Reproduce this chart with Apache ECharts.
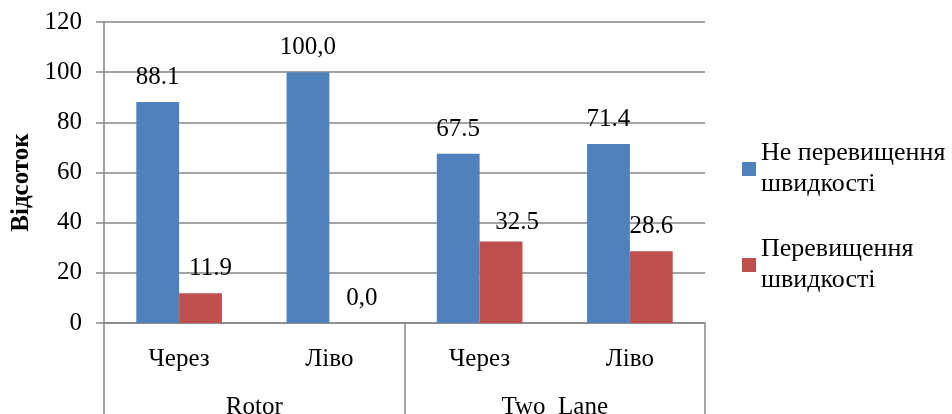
<!DOCTYPE html>
<html>
<head>
<meta charset="utf-8">
<script src="https://cdn.jsdelivr.net/npm/echarts@6/dist/echarts.min.js"></script>
<style>
  html, body { margin: 0; padding: 0; background: #fff; }
  #chart { width: 952px; height: 414px; }
</style>
</head>
<body>
<div id="chart"></div>
<script>
// Movement types per roundabout/intersection group
const categories = ['Через', 'Ліво', 'Через', 'Ліво'];
const groups = ['Rotor', 'Two  Lane'];
const seriesNames = ['Не перевищення\nшвидкості', 'Перевищення\nшвидкості'];
const noSpeeding = [88.1, 100.0, 67.5, 71.4];
const speeding = [11.9, 0.0, 32.5, 28.6];
const yTicks = [0, 20, 40, 60, 80, 100, 120];

const FONT = 'Liberation Serif';
const GRID_COLOR = '#868686';

// whole numbers were printed with a comma decimal separator
function fmt(v) {
  return Number.isInteger(v) ? v.toFixed(1).replace('.', ',') : v.toFixed(1);
}

// small nudges of the red value labels
const redLabelNudge = [[10, 0], [11, 0], [16, 5], [0, 0]];

const chart = echarts.init(document.getElementById('chart'), null, { renderer: 'canvas' });

const labelBase = {
  show: true,
  position: 'top',
  distance: 12,
  fontFamily: FONT,
  fontSize: 25,
  color: '#000',
  formatter: p => fmt(p.value)
};

chart.setOption({
  animation: false,
  color: ['#4F81BD', '#C0504D'],
  grid: {
    left: 104, top: 22, right: 247, bottom: 91,
    containLabel: false,
    outerBoundsMode: 'none'
  },
  legend: {
    orient: 'vertical',
    left: 737,
    top: 133,
    itemWidth: 14,
    itemHeight: 14,
    itemGap: 34,
    icon: 'rect',
    textStyle: { fontFamily: FONT, fontSize: 26, color: '#000', lineHeight: 31 },
    data: seriesNames
  },
  xAxis: [
    {
      type: 'category',
      data: categories,
      position: 'bottom',
      axisLine: { show: true, lineStyle: { color: GRID_COLOR, width: 1.5 } },
      axisTick: { show: false },
      axisLabel: { fontFamily: FONT, fontSize: 25, color: '#000', margin: 24, interval: 0 }
    },
    {
      type: 'category',
      data: groups,
      position: 'bottom',
      axisLine: { show: false },
      axisTick: { show: true, length: 92, lineStyle: { color: GRID_COLOR, width: 1.5 } },
      axisLabel: { fontFamily: FONT, fontSize: 25, color: '#000', margin: 72, interval: 0 }
    }
  ],
  yAxis: {
    type: 'value',
    min: yTicks[0],
    max: yTicks[yTicks.length - 1],
    interval: yTicks[1] - yTicks[0],
    name: 'Відсоток',
    nameLocation: 'middle',
    nameGap: 67,
    nameTextStyle: {
      fontFamily: FONT, fontSize: 25, fontWeight: 'bold', color: '#000',
      padding: [0, 20, 0, 0]
    },
    axisLine: { show: true, lineStyle: { color: GRID_COLOR, width: 1.5 } },
    axisTick: { show: true, length: 8, lineStyle: { color: GRID_COLOR, width: 1.5 } },
    axisLabel: { fontFamily: FONT, fontSize: 25, color: '#000', margin: 22 },
    splitLine: { show: true, lineStyle: { color: GRID_COLOR, width: 1.5 } }
  },
  series: [
    {
      name: seriesNames[0],
      type: 'bar',
      xAxisIndex: 0,
      data: noSpeeding,
      barGap: '0%',
      barCategoryGap: '43%',
      label: labelBase
    },
    {
      name: seriesNames[1],
      type: 'bar',
      xAxisIndex: 0,
      data: speeding.map((v, i) => ({ value: v, label: { offset: redLabelNudge[i] } })),
      barGap: '0%',
      barCategoryGap: '43%',
      label: labelBase
    }
  ]
});
</script>
</body>
</html>
